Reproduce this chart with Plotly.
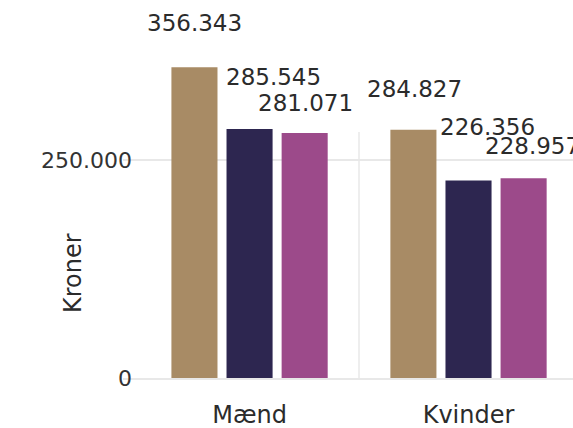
import plotly.graph_objects as go

# ---- data ----
categories = ["Mænd", "Kvinder"]
series_names = ["Serie 1", "Serie 2", "Serie 3"]
series_values = [
    [356343, 284827],
    [285545, 226356],
    [281071, 228957],
]
y_tick_values = [0, 250000]

# ---- style ----
COLORS = ["#A88B65", "#2D2650", "#9C4A8A"]
FONT = "DejaVu Sans"
TEXT_COLOR = "#2b2b2b"
GRID = "#e8e8e8"
BARGAP = 0.245
BARGROUPGAP = 0.164
# per-label pixel offsets (dx, dy up) [series][category]
LABEL_DX = [[0, 1], [23.5, 18.5], [1.3, 8.5]]
LABEL_DY = [[44, 41], [52, 54], [30, 32]]

W, H = 573, 428
ML, MR, MT, MB = 123, 0, 8, 50
plot_h = H - MT - MB
px_per_unit = 218 / 250000
y_max = plot_h / px_per_unit


def fmt(v):
    return f"{v:,}".replace(",", ".")


fig = go.Figure()
for name, vals, col in zip(series_names, series_values, COLORS):
    fig.add_trace(go.Bar(x=categories, y=vals, name=name, marker_color=col,
                         marker_line_width=0, showlegend=False))

n = len(series_values)
slot = (1 - BARGAP) / n
annotations = []
for si, vals in enumerate(series_values):
    for ci, v in enumerate(vals):
        annotations.append(dict(
            x=ci + (si - (n - 1) / 2) * slot, y=v, xref="x", yref="y",
            text=fmt(v), showarrow=False, xanchor="center", yanchor="middle",
            xshift=LABEL_DX[si][ci], yshift=LABEL_DY[si][ci],
            font=dict(family=FONT, size=23, color=TEXT_COLOR)))

# y axis title as rotated annotation
annotations.append(dict(
    text="Kroner", xref="paper", yref="paper", x=0, y=(378 - 273) / plot_h,
    xshift=-50, xanchor="center", yanchor="middle", textangle=-90,
    showarrow=False, font=dict(family=FONT, size=24, color=TEXT_COLOR)))

# separator between categories
shapes = [dict(type="line", xref="x", yref="y", x0=0.5, x1=0.5,
               y0=-45 / px_per_unit, y1=246 / px_per_unit,
               line=dict(color="#eeeeee", width=2), layer="below")]

fig.update_layout(
    width=W, height=H,
    margin=dict(l=ML, r=MR, t=MT, b=MB, autoexpand=False),
    paper_bgcolor="white", plot_bgcolor="white",
    barmode="group", bargap=BARGAP, bargroupgap=BARGROUPGAP,
    separators=",.",
    font=dict(family=FONT, color=TEXT_COLOR),
    annotations=annotations, shapes=shapes,
    xaxis=dict(range=[-0.578, 1.4772], showgrid=False, showline=True,
               linecolor=GRID, linewidth=2, ticks="",
               tickfont=dict(family=FONT, size=24, color=TEXT_COLOR),
               ticklabelstandoff=14),
    yaxis=dict(range=[0, y_max], tickvals=y_tick_values, tickformat=",d",
               showgrid=True, gridcolor=GRID, gridwidth=2, zeroline=False,
               showline=False, ticks="", ticklabelstandoff=-10,
               tickfont=dict(family=FONT, size=22, color="#333333")),
)

fig.write_html(
    "out.html",
    config={"displayModeBar": False},
    post_script="document.body.style.margin='0';"
                "document.documentElement.style.overflow='hidden';"
                "document.body.style.overflow='hidden';",
)
